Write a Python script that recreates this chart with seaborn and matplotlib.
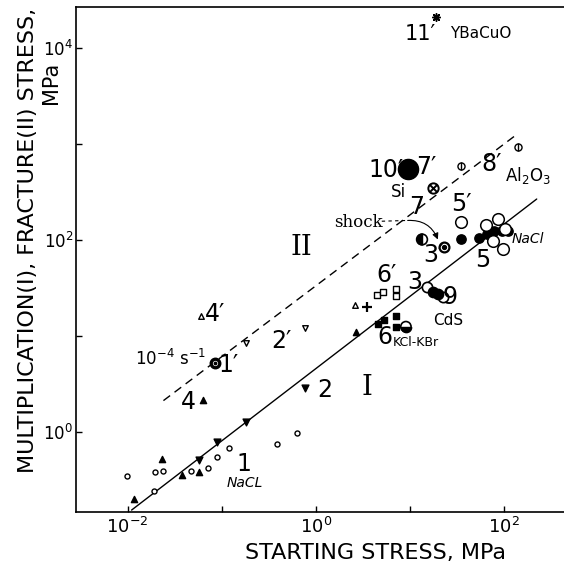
import matplotlib
matplotlib.use("Agg")
import matplotlib.pyplot as plt
from matplotlib.markers import MarkerStyle
import seaborn as sns

# ---- data (stress values in MPa) ----
# 1: NaCl, small open circles
nacl_open_x = [0.0098, 0.0195, 0.024, 0.019, 0.047, 0.071, 0.089, 0.12, 0.39, 0.63]
nacl_open_y = [0.355, 0.39, 0.40, 0.245, 0.40, 0.43, 0.55, 0.68, 0.76, 0.98]
# 4: filled up-triangles
tri_up_x = [0.0117, 0.023, 0.038, 0.0575, 0.063, 2.7]
tri_up_y = [0.204, 0.525, 0.363, 0.39, 2.19, 11.0]
# 2: filled down-triangles
tri_dn_x = [0.0575, 0.089, 0.18, 0.76]
tri_dn_y = [0.51, 0.79, 1.29, 2.88]
# 2': open down-triangles
tri_dn_open_x = [0.18, 0.76]
tri_dn_open_y = [8.5, 12.3]
# 4': open up-triangles
tri_up_open_x = [0.060, 2.63]
tri_up_open_y = [16.2, 21.4]
# plus sign
plus_x = [3.55]
plus_y = [20.4]
# 1': ring at 1e-4 s^-1
ring_x = [0.085]
ring_y = [5.25]
# 6': open squares, 6: filled squares (KCl-KBr)
sq_open_x = [4.47, 5.25, 7.2, 7.2]
sq_open_y = [26.9, 28.8, 30.9, 26.3]
sq_fill_x = [4.57, 5.37, 7.2, 7.2]
sq_fill_y = [13.5, 14.8, 16.2, 12.6]
half_bottom_x = [9.1]
half_bottom_y = [12.6]
# 3 / 9: CdS
cds_open_x = [15.1, 22.4]
cds_open_y = [32.4, 25.7]
cds_fill_x = [17.8, 20.0]
cds_fill_y = [28.8, 27.5]
# 3': shock
half_left_x = [13.5]
half_left_y = [102]
dot_ring_x = [22.9]
dot_ring_y = [85]
# 7: Si
si_x = [17.8]
si_y = [347]
# 10'
big_x = [9.5]
big_y = [550]
# 7', 8': Al2O3
phi_x = [35.5, 141]
phi_y = [600, 933]
# 5', 5: NaCl
nacl5_open_x = [35.5, 64.6, 87, 102, 77.6, 97.7]
nacl5_open_y = [155, 145, 166, 132, 97.7, 81.3]
nacl5_fill_x = [35.5, 55, 66, 79.4, 95.5, 110]
nacl5_fill_y = [102, 105, 117.5, 126, 126, 126]
# 11': YBaCuO
ybco_x = [19]
ybco_y = [21400]

# boundary lines
line_I_x = [0.011, 224]
line_I_y = [0.155, 269]
line_II_x = [0.024, 141]
line_II_y = [2.14, 1290]

x_major = [1e-2, 1e0, 1e2]
x_major_labels = ["$10^{-2}$", "$10^{0}$", "$10^{2}$"]
x_minor = [1e-1, 1e1]
y_major = [1e0, 1e2, 1e4]
y_major_labels = ["$10^{0}$", "$10^{2}$", "$10^{4}$"]
y_minor = [1e1, 1e3]

sns.set_style("ticks")
plt.rcParams["font.family"] = ["DejaVu Sans"]
plt.rcParams["mathtext.fontset"] = "dejavusans"
plt.rcParams["text.color"] = "black"

fig = plt.figure(figsize=(5.64, 5.73), dpi=100)
ax = fig.add_axes([76 / 564, 1 - 512 / 573, 1 - 76 / 564, 505 / 573])
ax.set_xscale("log")
ax.set_yscale("log")


def pts(x, y, marker="o", s=14, fc="black", lw=1.0, z=3):
    m = MarkerStyle(marker) if not isinstance(marker, MarkerStyle) else marker
    if m.is_filled():
        sns.scatterplot(x=x, y=y, marker=marker, s=s, color="black",
                        facecolor=fc, edgecolor="black", linewidth=lw,
                        ax=ax, zorder=z, legend=False)
    else:
        sns.scatterplot(x=x, y=y, marker=marker, s=s, color="black",
                        linewidth=lw, ax=ax, zorder=z, legend=False)


# lines
sns.lineplot(x=line_I_x, y=line_I_y, color="black", lw=1.0, ax=ax,
             sort=False, estimator=None, zorder=1)
sns.lineplot(x=line_II_x, y=line_II_y, color="black", lw=1.0, ax=ax,
             sort=False, estimator=None, zorder=1, linestyle=(0, (6, 4)))

# markers
pts(nacl_open_x, nacl_open_y, "o", 13, "white")
pts(tri_up_x, tri_up_y, "^", 20, "black")
pts(tri_dn_x, tri_dn_y, "v", 24, "black")
pts(tri_dn_open_x, tri_dn_open_y, "v", 16, "white")
pts(tri_up_open_x, tri_up_open_y, "^", 16, "white")
pts(plus_x, plus_y, "+", 45, lw=1.6)
pts(ring_x, ring_y, "o", 38, "white", lw=2.4)
pts(ring_x, ring_y, "o", 3, "black")
pts(sq_open_x, sq_open_y, "s", 20, "white")
pts(sq_fill_x, sq_fill_y, "s", 22, "black")
pts(half_bottom_x, half_bottom_y, MarkerStyle("o", fillstyle="bottom"), 55, "black")
pts(half_bottom_x, half_bottom_y, "o", 55, "none", lw=1.2, z=4)
pts(cds_open_x, cds_open_y, "o", 55, "white", lw=1.2)
pts(cds_fill_x, cds_fill_y, "o", 55, "black")
pts(half_left_x, half_left_y, MarkerStyle("o", fillstyle="left"), 60, "black")
pts(half_left_x, half_left_y, "o", 60, "none", lw=1.2, z=4)
pts(dot_ring_x, dot_ring_y, "o", 50, "white", lw=1.6)
pts(dot_ring_x, dot_ring_y, "o", 8, "black", z=4)
pts(si_x, si_y, "o", 55, "white", lw=1.4)
pts(si_x, si_y, "x", 28, lw=1.4, z=4)
pts(big_x, big_y, "o", 210, "black")
pts(phi_x, phi_y, "o", 26, "white", lw=1.0)
pts(phi_x, phi_y, "|", 26, lw=1.0, z=4)
pts(nacl5_fill_x, nacl5_fill_y, "o", 45, "black", z=3)
pts(nacl5_open_x, nacl5_open_y, "o", 70, "white", lw=1.1, z=3)
pts(ybco_x, ybco_y, (8, 2, 0), 30, lw=1.1)

# shock arrow
ax.plot([5.04, 9.5], [158, 161], color="black", lw=0.8, linestyle=(0, (3, 3)))
ax.annotate("", xy=(19.9, 102), xytext=(9.5, 161),
            arrowprops=dict(arrowstyle="-|>", lw=0.8, color="black",
                            connectionstyle="arc3,rad=-0.35",
                            shrinkA=0, shrinkB=0, mutation_scale=9))

# labels in the plot
big = dict(fontsize=17, ha="center", va="center")
ax.text(0.17, 0.47, "1", **big)
ax.text(0.175, 0.30, "NaCL", fontsize=10, style="italic", ha="center", va="center")
ax.text(1.25, 2.74, "2", **big)
ax.text(0.044, 2.07, "4", **big)
ax.text(0.085, 17.2, "4\u2032", **big)
ax.text(0.43, 8.9, "2\u2032", **big)
ax.text(0.117, 5.0, "1\u2032", **big)
ax.text(0.069, 5.85, "10$^{-4}$ s$^{-1}$", fontsize=12, ha="right", va="center")
ax.text(3.5, 2.96, "I", fontsize=20, family="DejaVu Serif", ha="center", va="center")
ax.text(0.71, 85, "II", fontsize=20, family="DejaVu Serif", ha="center", va="center")
ax.text(5.65, 43, "6\u2032", **big)
ax.text(11.3, 36.8, "3", **big)
ax.text(26.6, 25.7, "9", **big)
ax.text(25.5, 14.7, "CdS", fontsize=11, ha="center", va="center")
ax.text(5.4, 9.8, "6", **big)
ax.text(6.6, 8.7, "KCl-KBr", fontsize=9, ha="left", va="center")
ax.text(35.5, 240, "5\u2032", **big)
ax.text(17.7, 69.5, "3\u2032", **big)
ax.text(60, 62, "5", **big)
ax.text(120, 104, "NaCl", fontsize=10, style="italic", ha="left", va="center")
ax.text(11.8, 223, "7", **big)
ax.text(7.5, 318, "Si", fontsize=12, ha="center", va="center")
ax.text(2.82, 155, "shock", fontsize=12, family="DejaVu Serif", ha="center", va="center")
ax.text(5.65, 546, "10\u2032", **big)
ax.text(15.1, 578, "7\u2032", **big)
ax.text(74, 630, "8\u2032", **big)
ax.text(182, 475, "Al$_2$O$_3$", fontsize=12, ha="center", va="center")
ax.text(12.8, 14200, "11\u2032", fontsize=15, ha="center", va="center")
ax.text(57.5, 14200, "YBaCuO", fontsize=11, ha="center", va="center")

# axes
ax.set_xlim(0.00282, 437)
ax.set_ylim(0.148, 26900)
ax.set_xticks(x_major)
ax.set_xticklabels(x_major_labels)
ax.set_xticks(x_minor, minor=True)
ax.set_xticklabels([], minor=True)
ax.set_yticks(y_major)
ax.set_yticklabels(y_major_labels)
ax.set_yticks(y_minor, minor=True)
ax.set_yticklabels([], minor=True)
ax.tick_params(which="both", direction="in", length=4, width=1, color="black",
               labelsize=13, labelcolor="black")
ax.tick_params(axis="y", pad=2, labelsize=12)
ax.spines["right"].set_visible(False)
for side in ("left", "bottom", "top"):
    ax.spines[side].set_color("black")
    ax.spines[side].set_linewidth(1.2)

fig.text(0.665, 0.035, "STARTING STRESS, MPa", fontsize=16, ha="center", va="center")
fig.text(0.050, 0.986, "MULTIPLICATION(I), FRACTURE(II) STRESS,", fontsize=16,
         rotation=90, ha="center", va="top")
fig.text(0.090, 0.855, "MPa", fontsize=15, rotation=90, ha="center", va="center")

fig.savefig("out.png", dpi=100)
